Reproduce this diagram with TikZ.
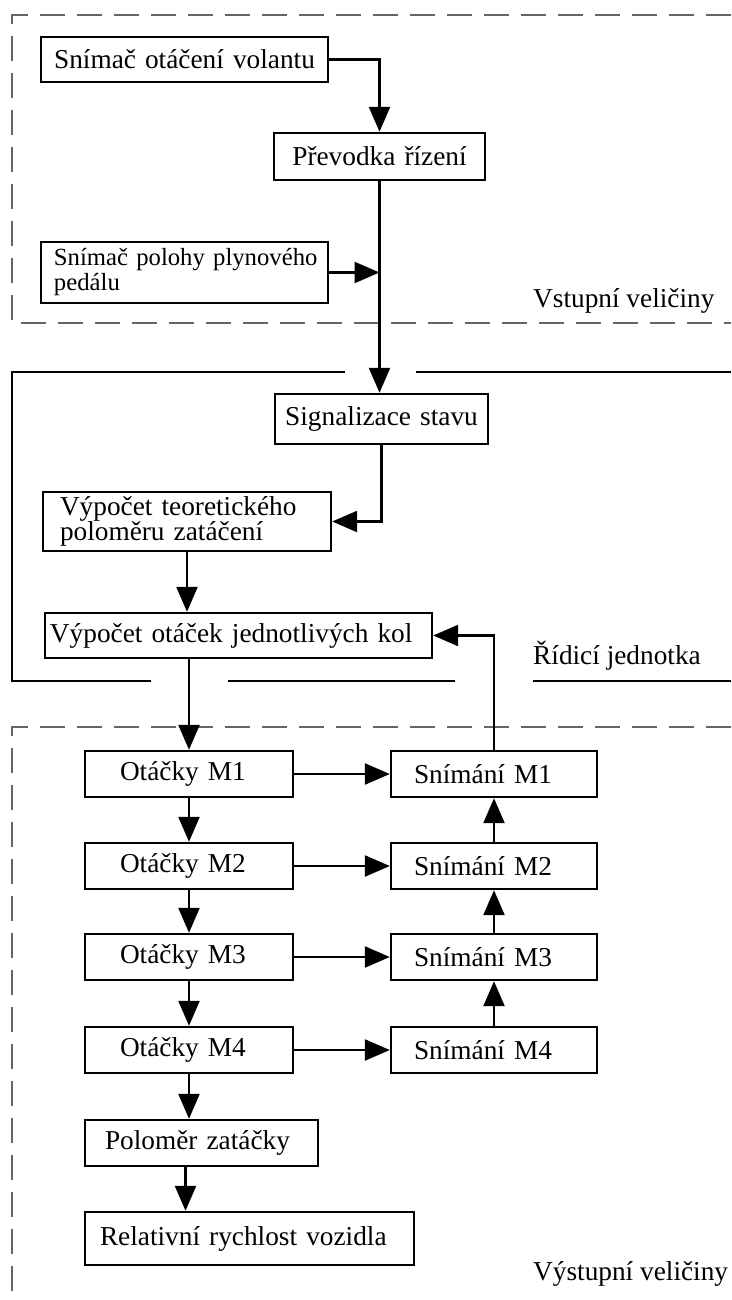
\documentclass[tikz,border=0pt]{standalone}
\usepackage{fontspec}
\setmainfont{Liberation Serif}
\usetikzlibrary{arrows.meta}
\newcommand\bodyfont{\fontsize{27.3pt}{25pt}\selectfont}
\newcommand\smallbody{\fontsize{24.7pt}{25pt}\selectfont}
\begin{document}
\begin{tikzpicture}[x=1pt,y=-1pt,
  box/.style={draw, line width=2.4pt, inner xsep=0pt, inner ysep=0pt, font=\bodyfont},
  arr/.style={line width=2.4pt, -{Triangle[length=25pt,width=21pt]}},
  zone/.style={line width=2.2pt, draw=black!60, dash pattern=on 25pt off 12pt},
  frameline/.style={line width=2.4pt},
  tag/.style={font=\bodyfont, inner sep=0pt, anchor=base west}]
\useasboundingbox (0,0) rectangle (731,1300);
\fill[white] (0,0) rectangle (731,1300);

% dashed zones: inputs and outputs
\draw[zone] (731,15) -- (12,15) -- (12,323) -- (731,323);
\draw[zone] (731,727) -- (12,727) -- (12,1300);

% control unit frame
\draw[frameline] (345,372) -- (12,372) -- (12,681) -- (151,681);
\draw[frameline] (416,372) -- (731,372);
\draw[frameline] (228,681) -- (455,681);
\draw[frameline] (533,681) -- (731,681);

% input blocks
\node[box, align=center, text width=287pt, minimum width=287pt, minimum height=45pt] (sot) at (184.5,59.5) {Snímač otáčení volantu};
\node[box, align=center, text width=211pt, minimum width=211pt, minimum height=47pt] (prev) at (379.5,156.5) {Převodka řízení};
\node[box, align=left, font=\smallbody, text width=287pt, minimum width=287pt, minimum height=61pt] (spol) at (184.5,272.5) {\hspace*{13pt}Snímač polohy plynového\\\hspace*{13pt}pedálu};

% control unit blocks
\node[box, align=center, text width=213pt, minimum width=213pt, minimum height=50pt] (sig) at (381.5,419) {Signalizace stavu};
\node[box, align=left, text width=288pt, minimum width=288pt, minimum height=59pt] (vteor) at (187,521.5) {\hspace*{17pt}Výpočet teoretického\\\hspace*{17pt}poloměru zatáčení};
\node[box, align=left, text width=387pt, minimum width=387pt, minimum height=45pt] (vot) at (238.5,635.5) {\hspace*{5pt}Výpočet otáček jednotlivých kol};

% output blocks: wheel speeds
\foreach \i/\y in {1/774, 2/866, 3/957, 4/1050} {
  \node[box, align=left, text width=208pt, minimum width=208pt, minimum height=46pt] (m\i) at (189,\y) {\hspace*{35pt}Otáčky M\i};
  \node[box, align=left, text width=206pt, minimum width=206pt, minimum height=46pt] (s\i) at (494,\y) {\hspace*{23pt}Snímání M\i};
}
\node[box, align=left, text width=233pt, minimum width=233pt, minimum height=46pt] (pol) at (201.5,1143) {\hspace*{20pt}Poloměr zatáčky};
\node[box, align=left, text width=329pt, minimum width=329pt, minimum height=53pt] (rel) at (249.5,1238.5) {\hspace*{15pt}Relativní rychlost vozidla};

% zone titles
\node[tag] (vst) at (533,307) {Vstupní veličiny};
\node[tag] (rid) at (533,664) {Řídicí jednotka};
\node[tag] (vys) at (533,1280) {Výstupní veličiny};

% connectors
\draw[arr] (sot.east) -| (prev.north);
\draw[arr] (prev.south) -- (prev.south |- sig.north);
\draw[arr] (spol.east) -- (spol.east -| prev.south);
\draw[arr] (sig.south) |- (vteor.east);
\draw[arr] (vteor.south) -- (vteor.south |- vot.north);
\draw[arr] (m1.north |- vot.south) -- (m1.north);
\draw[arr] (s1.north) |- (vot.east);
\foreach \i in {1,2,3,4} { \draw[arr] (m\i.east) -- (s\i.west); }
\foreach \i/\j in {1/2, 2/3, 3/4} {
  \draw[arr] (m\i.south) -- (m\j.north);
  \draw[arr] (s\j.north) -- (s\i.south);
}
\draw[arr] (m4.south) -- (m4.south |- pol.north);
\draw[arr] ([xshift=-16pt]pol.south) -- ([xshift=-16pt]pol.south |- rel.north);
\end{tikzpicture}
\end{document}
